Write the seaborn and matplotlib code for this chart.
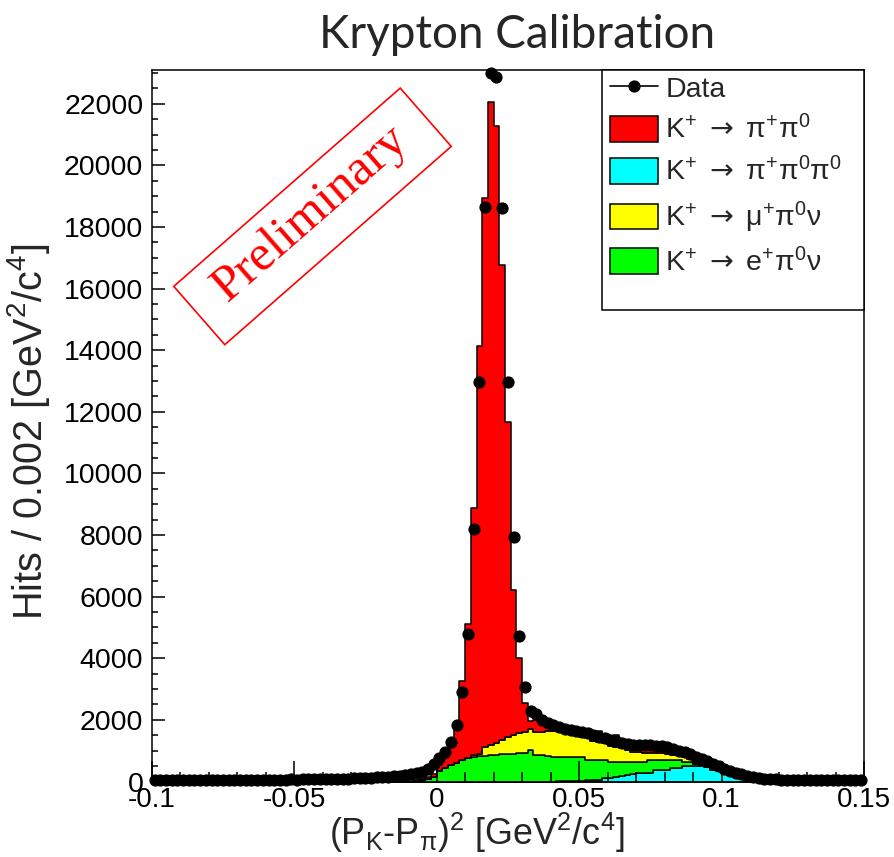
import numpy as np
import pandas as pd
import matplotlib
matplotlib.use("Agg")
import matplotlib.pyplot as plt
from matplotlib.lines import Line2D
from matplotlib.patches import Patch, Rectangle
from matplotlib.transforms import IdentityTransform
import seaborn as sns

# ---------------------------------------------------------------------------
# Binning: 125 bins of 0.002 GeV^2/c^4 between -0.1 and 0.15
n_bins = 125
x_range = (-0.1, 0.15)
edges = np.linspace(x_range[0], x_range[1], n_bins + 1)
centers = 0.5 * (edges[:-1] + edges[1:])

# Measured counts, one value per bin
data_counts = [
    48, 52, 45, 50, 47, 53, 49, 51, 46, 55,
    50, 52, 48, 54, 51, 56, 53, 58, 55, 57,
    60, 58, 62, 61, 65, 63, 68, 70, 72, 75,
    78, 82, 86, 90, 95,
    100, 108, 115, 124, 133, 145, 158, 172, 190, 212,
    240, 275, 320, 420, 570,
    753, 968, 1292, 1834, 2916, 4789, 8188, 12961, 18662, 22993,
    22864, 18610, 12961, 7929, 4724,
    3078, 2300, 2180, 2000, 1900, 1830, 1770, 1720, 1680, 1640,
    1600, 1560, 1510, 1460, 1410, 1360, 1310, 1260, 1230, 1200,
    1190, 1180, 1170, 1160, 1140, 1110, 1060, 1000, 950, 880,
    810, 740, 660, 580, 500, 420, 350, 290, 240, 190,
    150, 120, 95, 80, 70,
    62, 58, 55, 56, 52, 50, 53, 49, 51, 48, 50, 47, 49, 46, 48,
]

# Simulated decay channels, bins 45..109 (-0.010 to 0.120); empty elsewhere
first_mc_bin = 45
mc_kpi2 = [
    30, 35, 45, 70, 100,
    190, 330, 770, 1150, 2550, 4344, 8010, 13249, 17825, 20867,
    20042, 15422, 10227, 4708, 2435, 922, 250, 383, 263, 120,
    100, 60, 90, 95, 100, 125, 160, 180, 358, 180,
    190, 380, 175, 177, 202, 182, 224, 214, 204, 184,
    200, 180, 120, 115, 130, 220, 160, 120, 120, 90,
    80, 80, 60, 65, 70, 65, 60, 40, 25, 15,
]
mc_kpi3 = [
    0, 0, 0, 0, 0,
    0, 0, 0, 0, 0, 0, 0, 0, 0, 0,
    0, 0, 0, 0, 0, 0, 0, 0, 0, 0,
    0, 15, 20, 25, 30, 30, 35, 45, 60, 100,
    110, 130, 170, 211, 240, 266, 266, 266, 373, 373,
    380, 429, 429, 503, 503, 503, 503, 470, 373, 330,
    266, 211, 180, 120, 60, 25, 0, 0, 0, 0,
]
mc_kmu3 = [
    0, 0, 0, 0, 0,
    0, 0, 0, 0, 0, 20, 60, 80, 290, 325,
    370, 467, 565, 610, 655, 687, 677, 757, 757, 810,
    835, 835, 785, 760, 695, 650, 702, 622, 594, 542,
    517, 487, 432, 380, 325, 325, 273, 218, 218, 218,
    182, 162, 162, 162, 77, 0, 0, 0, 0, 0,
    0, 0, 0, 0, 0, 0, 0, 0, 0, 0,
]
mc_ke3 = [
    0, 15, 35, 80, 150,
    330, 430, 530, 600, 700, 750, 800, 820, 840, 860,
    870, 880, 890, 900, 910, 930, 1023, 860, 860, 830,
    805, 790, 785, 780, 775, 775, 663, 653, 638, 598,
    533, 513, 473, 432, 403, 377, 377, 432, 325, 325,
    318, 269, 269, 140, 140, 57, 37, 30, 47, 40,
    34, 19, 10, 5, 0, 0, 0, 0, 0, 0,
]

channel_labels = [
    r"K$^{+}$ $\mathsf{\rightarrow}$ π$^{+}$π$^{0}$",
    r"K$^{+}$ $\mathsf{\rightarrow}$ π$^{+}$π$^{0}$π$^{0}$",
    r"K$^{+}$ $\mathsf{\rightarrow}$ μ$^{+}$π$^{0}$ν",
    r"K$^{+}$ $\mathsf{\rightarrow}$ e$^{+}$π$^{0}$ν",
]
channel_values = [mc_kpi2, mc_kpi3, mc_kmu3, mc_ke3]
channel_colors = ["#ff0000", "#00ffff", "#ffff00", "#00ff00"]

x_ticks = [-0.1, -0.05, 0.0, 0.05, 0.1, 0.15]
x_tick_labels = ["-0.1", "-0.05", "0", "0.05", "0.1", "0.15"]
y_ticks = list(range(0, 22001, 2000))

# ---------------------------------------------------------------------------
sns.set_style("ticks")
plt.rcParams.update({
    "font.family": ["Liberation Sans", "DejaVu Sans"],
    "mathtext.fontset": "custom",
    "mathtext.rm": "Liberation Sans",
    "mathtext.it": "Liberation Sans:italic",
    "mathtext.bf": "Liberation Sans:bold",
    "mathtext.sf": "DejaVu Sans",
    "axes.linewidth": 1.1,
    "axes.edgecolor": "black",
})

W, H = 894, 857
fig = plt.figure(figsize=(W / 100, H / 100), dpi=100)
ax_l, ax_r, ax_t, ax_b = 151.7, 864.0, 70.0, 781.5
ax = fig.add_axes([ax_l / W, 1 - ax_b / H, (ax_r - ax_l) / W, (ax_b - ax_t) / H])

# Long-format table of the simulated channels
frames = []
for label, vals in zip(channel_labels, channel_values):
    full = np.zeros(len(centers))
    full[first_mc_bin:first_mc_bin + len(vals)] = vals
    frames.append(pd.DataFrame({"x": centers, "n": full, "channel": label}))
mc = pd.concat(frames, ignore_index=True)

# stacking order: first hue level ends up on top of the stack
stack_order = [channel_labels[0], channel_labels[2], channel_labels[3], channel_labels[1]]
palette = dict(zip(channel_labels, channel_colors))

sns.histplot(
    data=mc, x="x", weights="n", hue="channel", hue_order=stack_order,
    palette=palette, multiple="stack", element="step",
    bins=n_bins, binrange=x_range,
    alpha=1.0, edgecolor="black", linewidth=1.1, legend=False, ax=ax,
)

counts = np.asarray(data_counts, dtype=float)
eb = ax.errorbar(
    centers, counts, xerr=0.001, yerr=np.sqrt(counts), fmt="o",
    color="black", ms=7.8, elinewidth=1.2, capsize=0, zorder=5,
)
for art in eb.get_children():
    art.set_clip_on(False)

ax.set_xlim(*x_range)
ax.set_ylim(0, 23100)
ax.set_xticks(x_ticks)
ax.set_xticklabels(x_tick_labels)
ax.set_xticks(np.arange(-0.1, 0.1501, 0.01), minor=True)
ax.set_yticks(y_ticks)
ax.set_yticks(np.arange(0, 23001, 500), minor=True)
ax.set_axisbelow(False)
ax.tick_params(axis="both", which="both", direction="in", top=False, right=False,
               width=1.1, color="black", labelcolor="black")
ax.tick_params(axis="x", which="major", length=15, labelsize=20, pad=4)
ax.tick_params(axis="x", which="minor", length=7.5)
ax.tick_params(axis="y", which="major", length=9, labelsize=20.5, pad=6)
ax.tick_params(axis="y", which="minor", length=4.5)
for s in ax.spines.values():
    s.set_visible(True)
    s.set_zorder(6)

ax.set_xlabel(r"(P$_{\mathrm{K}}$-P$_{\mathrm{\pi}}$)$^{2}$ [GeV$^{2}$/c$^{4}$]", fontsize=25.8)
ax.xaxis.set_label_coords((477 - ax_l) / (ax_r - ax_l), (ax_b - 811) / (ax_b - ax_t))
ax.set_ylabel(r"Hits / 0.002 [GeV$^{2}$/c$^{4}$]", fontsize=28.5)
ax.yaxis.set_label_coords((52 - ax_l) / (ax_r - ax_l), (ax_b - 432) / (ax_b - ax_t))

# Legend panel in the upper-right corner
ax.add_patch(Rectangle((0.632, 0.6627), 0.368, 0.3373, transform=ax.transAxes,
                       facecolor="white", edgecolor="black", lw=1.1,
                       zorder=7, clip_on=False))
handles = [Line2D([0], [0], color="black", marker="o", ms=7.8, lw=1.2)]
handles += [Patch(facecolor=c, edgecolor="black", lw=1.1) for c in channel_colors]
leg = ax.legend(handles, ["Data"] + channel_labels, loc="upper left",
                bbox_to_anchor=((606 - ax_l) / (ax_r - ax_l), 1.0),
                frameon=False, fontsize=20.5, borderpad=0.15, borderaxespad=0,
                handlelength=1.68, handleheight=1.0, handletextpad=0.25,
                labelspacing=0.45)
leg.set_zorder(8)

fig.text(517 / W, 1 - 35 / H, "Krypton Calibration", fontsize=33,
         family=["Lato", "DejaVu Sans"], ha="center", va="center")

# "Preliminary" stamp: rotated red frame with the word centred inside
stamp_cx, stamp_cy, stamp_angle = 312.5, H - 216.4, 41.2
stamp_w, stamp_h = 301.0, 77.5
fig.add_artist(Rectangle((stamp_cx - stamp_w / 2, stamp_cy - stamp_h / 2), stamp_w, stamp_h,
                         angle=stamp_angle, rotation_point="center",
                         transform=IdentityTransform(), facecolor="none",
                         edgecolor="red", lw=1.2))
fig.text((stamp_cx - 2) / W, (stamp_cy + 3) / H, "Preliminary", rotation=stamp_angle,
         rotation_mode="anchor", ha="center", va="center", fontsize=37,
         family=["Liberation Serif", "DejaVu Serif"], color="red")

fig.savefig("out.png", dpi=100)
